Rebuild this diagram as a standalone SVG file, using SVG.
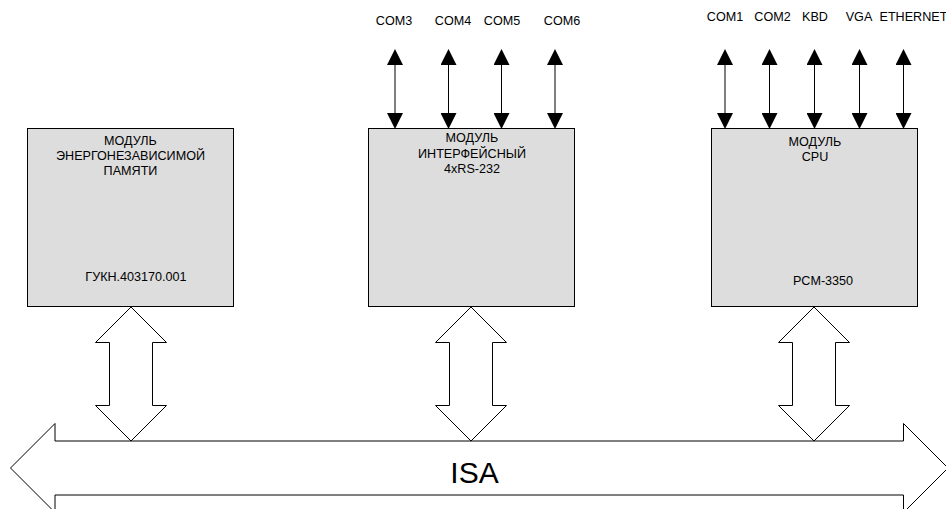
<svg xmlns="http://www.w3.org/2000/svg" width="946" height="509" viewBox="0 0 946 509">
  <style>
    .box { fill: #dddddd; stroke: #000; stroke-width: 1; }
    .lbl { font-family: "Liberation Sans", Arial, sans-serif; font-size: 12.6px; fill: #000; text-anchor: middle; }
    .port { stroke: #000; stroke-width: 1; fill: none; marker-start: url(#head); marker-end: url(#head); }
    .bus { fill: #fff; stroke: #000; stroke-width: 1; stroke-linejoin: miter; }
    .isa { font-family: "Liberation Sans", Arial, sans-serif; font-size: 30px; fill: #000; text-anchor: middle; }
  </style>
  <defs>
    <marker id="head" viewBox="0 0 16 16" refX="0" refY="8" markerWidth="16" markerHeight="16" markerUnits="userSpaceOnUse" orient="auto-start-reverse">
      <path d="M0,0 L16,8 L0,16 Z" fill="#000"/>
    </marker>
  </defs>

  <rect width="946" height="509" fill="#fff"/>

  <!-- ISA bus -->
  <g id="isa-bus">
    <polygon class="bus" points="10.5,468 55,423.5 55,441 903.5,441 903.5,423.5 948,468 903.5,512.5 903.5,495 55,495 55,512.5"/>
    <text class="isa" x="474.5" y="482.5">ISA</text>
  </g>

  <!-- Modules -->
  <g id="module-nvram">
    <rect class="box" x="27.5" y="128.5" width="206" height="178"/>
    <text class="lbl" x="130.5" y="145">МОДУЛЬ</text>
    <text class="lbl" x="130.5" y="160">ЭНЕРГОНЕЗАВИСИМОЙ</text>
    <text class="lbl" x="130.5" y="175">ПАМЯТИ</text>
    <text class="lbl" x="136" y="281">ГУКН.403170.001</text>
  </g>

  <g id="module-rs232">
    <rect class="box" x="368.5" y="128.5" width="206" height="178"/>
    <text class="lbl" x="472" y="142">МОДУЛЬ</text>
    <text class="lbl" x="472" y="157.5">ИНТЕРФЕЙСНЫЙ</text>
    <text class="lbl" x="472" y="173">4xRS-232</text>
  </g>

  <g id="module-cpu">
    <rect class="box" x="711.5" y="128.5" width="206" height="178"/>
    <text class="lbl" x="815" y="145.5">МОДУЛЬ</text>
    <text class="lbl" x="815" y="161">CPU</text>
    <text class="lbl" x="823" y="285">PCM-3350</text>
  </g>

  <!-- Port labels -->
  <g id="ports-rs232">
    <text class="lbl" x="394" y="25">COM3</text>
    <text class="lbl" x="453" y="25">COM4</text>
    <text class="lbl" x="502" y="25">COM5</text>
    <text class="lbl" x="562" y="25">COM6</text>
  </g>
  <g id="ports-cpu">
    <text class="lbl" x="725" y="21">COM1</text>
    <text class="lbl" x="772.5" y="21">COM2</text>
    <text class="lbl" x="815" y="21">KBD</text>
    <text class="lbl" x="859" y="21">VGA</text>
    <text class="lbl" x="879.5" y="21" style="text-anchor:start">ETHERNET</text>
  </g>

  <!-- Connectors -->
  <g id="connectors">
    <line class="port" x1="395" y1="65" x2="395" y2="113"/>
    <line class="port" x1="448.5" y1="65" x2="448.5" y2="113"/>
    <line class="port" x1="501.5" y1="65" x2="501.5" y2="113"/>
    <line class="port" x1="555" y1="65" x2="555" y2="113"/>

    <line class="port" x1="725" y1="65" x2="725" y2="113"/>
    <line class="port" x1="769.5" y1="65" x2="769.5" y2="113"/>
    <line class="port" x1="814.5" y1="65" x2="814.5" y2="113"/>
    <line class="port" x1="859.5" y1="65" x2="859.5" y2="113"/>
    <line class="port" x1="903.5" y1="65" x2="903.5" y2="113"/>

    <polygon class="bus" points="131,307 166.5,342.5 152.5,342.5 152.5,405.5 166.5,405.5 131,441 95.5,405.5 109.5,405.5 109.5,342.5 95.5,342.5"/>
    <polygon class="bus" points="471,307 506.5,342.5 492.5,342.5 492.5,405.5 506.5,405.5 471,441 435.5,405.5 449.5,405.5 449.5,342.5 435.5,342.5"/>
    <polygon class="bus" points="814,307 849.5,342.5 835.5,342.5 835.5,405.5 849.5,405.5 814,441 778.5,405.5 792.5,405.5 792.5,342.5 778.5,342.5"/>
  </g>
</svg>
